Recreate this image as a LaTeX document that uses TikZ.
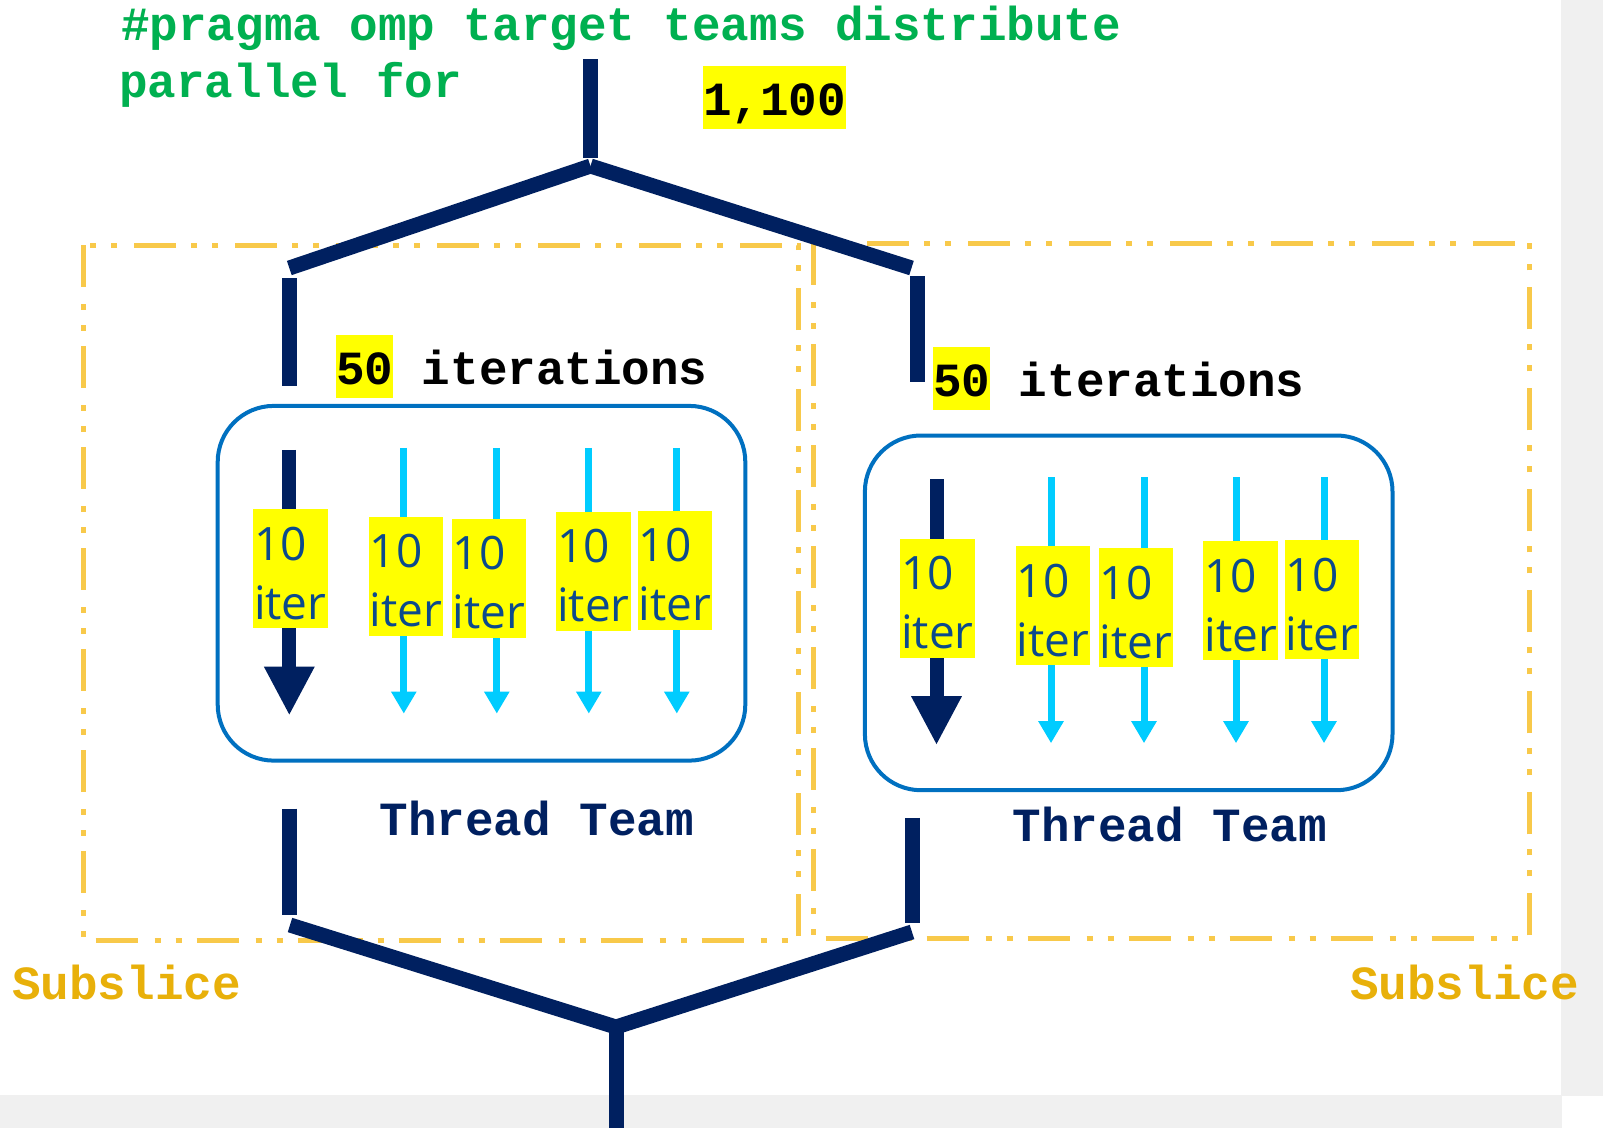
\documentclass[tikz,border=0pt]{standalone}
\usepackage{fontspec}
\setmainfont{Liberation Sans}
\newfontfamily\monofnt{Liberation Mono}
\newfontfamily\lblfnt{Open Sans}
\usetikzlibrary{arrows.meta}
\definecolor{navy}{HTML}{002060}
\definecolor{codegreen}{HTML}{00B050}
\definecolor{goldtext}{HTML}{E8B00A}
\definecolor{golddash}{HTML}{F8C94A}
\definecolor{boxblue}{HTML}{0070C0}
\definecolor{lightarr}{HTML}{00CCFF}
\definecolor{lbltext}{HTML}{0C4A8C}
\definecolor{hlyellow}{HTML}{FFFF00}
\definecolor{bggray}{HTML}{F0F0F0}
\newcommand\hlbox[1]{{\setlength{\fboxsep}{0pt}\colorbox{hlyellow}{\rule[-14pt]{0pt}{63pt}#1}}}
\newcommand\teniter{\rule{0pt}{51pt}10\\iter\rule[-9pt]{0pt}{9pt}}
\begin{document}
\begin{tikzpicture}[x=1pt,y=-1pt,
  code/.style={inner sep=0pt, anchor=base west, font=\monofnt\bfseries\fontsize{47.6pt}{56pt}\selectfont},
  navyline/.style={draw=navy, line width=15pt},
  subslice/.style={draw=golddash, line width=5pt, dash pattern=on 42pt off 17pt on 6pt off 15pt on 6pt off 15pt},
  teambox/.style={draw=boxblue, line width=4pt, rounded corners=56pt, minimum width=527.6pt, minimum height=354.7pt, inner sep=0pt},
  darkarr/.style={draw=navy, line width=14pt, -{Triangle[width=47pt,length=49pt]}},
  lightarrow/.style={draw=lightarr, line width=7pt, -{Triangle[width=24pt,length=22pt]}},
  lbl/.style={fill=hlyellow, text=lbltext, inner xsep=1pt, inner ysep=0pt, align=left, font=\lblfnt\fontsize{46pt}{59pt}\selectfont}
]
% background
\fill[white] (0,0) rectangle (1603,1128);
\fill[bggray] (1561,0) rectangle (1603,1096);
\fill[bggray] (0,1095) rectangle (1562,1128);
\useasboundingbox (0,0) rectangle (1603,1128);

% subslice boxes
\draw[subslice] (83.8,245.4) rectangle (798.4,940.5);
\draw[subslice] (813.7,243.3) rectangle (1529.4,938.5);
\node[code, text=goldtext] (subL) at (12,999) {Subslice};
\node[code, text=goldtext] (subR) at (1350,999) {Subslice};

% header text
\node[code, text=codegreen] (prag1) at (121,40) {\#pragma omp target teams distribute};
\node[code, text=codegreen] (prag2) at (119,97.7) {parallel for};
\node[code, text=black] (total) at (703,115) {\hlbox{1,100}};
\node[code, text=black] (itL) at (336,384) {\hlbox{50} iterations};
\node[code, text=black] (itR) at (933,396.3) {\hlbox{50} iterations};
\node[code, text=navy] (ttL) at (379.5,835.7) {Thread Team};
\node[code, text=navy] (ttR) at (1012.5,841.8) {Thread Team};

% fork / join coordinates
\coordinate (top0) at (590.5,59.3);
\coordinate (top1) at (590.5,158);
\coordinate (apex) at (590.5,166);
\coordinate (brL) at (289.3,268);
\coordinate (brR) at (911.5,268);
\coordinate (vL0) at (289.3,278);
\coordinate (vL1) at (289.3,386.4);
\coordinate (vR0) at (917,276);
\coordinate (vR1) at (917,382.3);
\coordinate (bL0) at (289.3,808.6);
\coordinate (bL1) at (289.3,915);
\coordinate (bR0) at (912,817.8);
\coordinate (bR1) at (912,923);
\coordinate (mL) at (290,925);
\coordinate (mR) at (912,932);
\coordinate (join) at (616,1027);
\coordinate (out0) at (616,1023);
\coordinate (out1) at (616,1128);

\draw[navyline] (top0) -- (top1);
\draw[navyline] (apex) -- (brL);
\draw[navyline] (apex) -- (brR);
\draw[navyline] (vL0) -- (vL1);
\draw[navyline] (vR0) -- (vR1);
\draw[navyline] (bL0) -- (bL1);
\draw[navyline] (bR0) -- (bR1);
\draw[navyline] (mL) -- (join);
\draw[navyline] (mR) -- (join);
\draw[navyline] (out0) -- (out1);

% thread teams
\foreach \dx/\dy/\t in {0/0/L, 647.2/29.6/R}{
  \begin{scope}[shift={(\dx,\dy)}]
    \node[teambox] (box\t) at (481.5,583.25) {};
    \coordinate (a\t0s) at (289.3,449.8); \coordinate (a\t0e) at (289.3,715.6);
    \draw[darkarr] (a\t0s) -- (a\t0e);
    \foreach \x [count=\i] in {403.8,496.8,588.8,676.8}{
      \coordinate (a\t\i s) at (\x,447.8); \coordinate (a\t\i e) at (\x,713.6);
      \draw[lightarrow] (a\t\i s) -- (a\t\i e);
    }
    \node[lbl] (l\t1) at (290.3,568.5) {\teniter};
    \node[lbl] (l\t2) at (406,576) {\teniter};
    \node[lbl] (l\t3) at (489,578) {\teniter};
    \node[lbl] (l\t4) at (593.5,571) {\teniter};
    \node[lbl] (l\t5) at (675,570) {\teniter};
  \end{scope}
}
\end{tikzpicture}
\end{document}
